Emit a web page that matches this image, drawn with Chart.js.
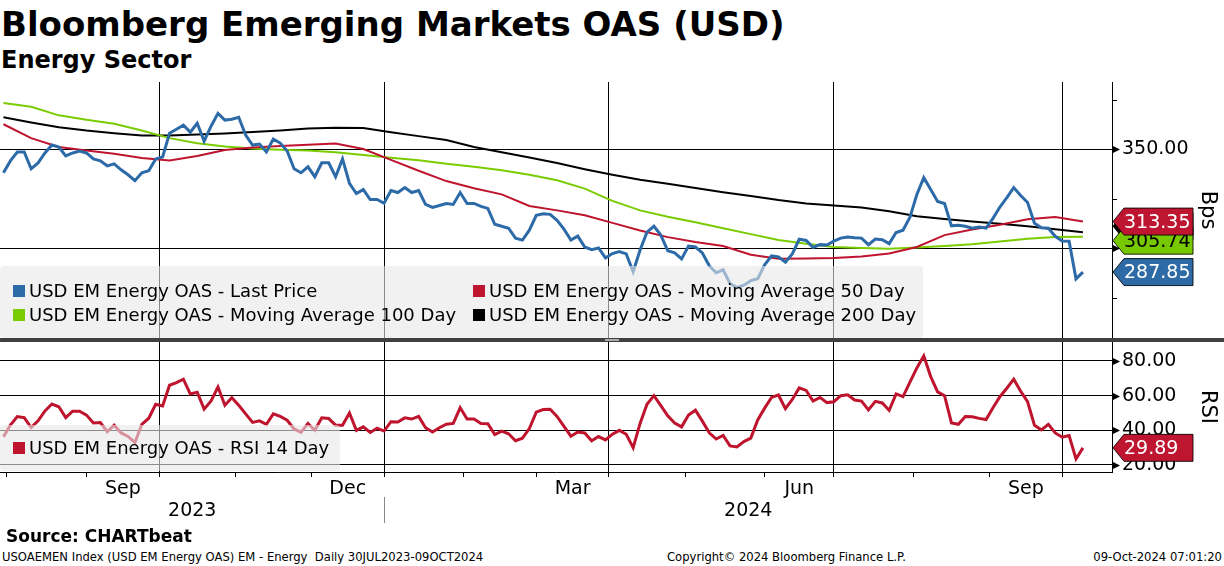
<!DOCTYPE html>
<html>
<head>
<meta charset="utf-8">
<script src="https://cdn.jsdelivr.net/npm/chart.js@4.4.1/dist/chart.umd.min.js"></script>
<style>
html, body { margin: 0; padding: 0; background: #fff; }
body { width: 1224px; height: 566px; position: relative; overflow: hidden;
       font-family: "DejaVu Sans", sans-serif; color: #000; }
.txt { position: absolute; white-space: nowrap; line-height: 1; }
#title { left: 1px; top: 7px; font-size: 34px; font-weight: bold; }
#sub { left: 1px; top: 48px; font-size: 24px; font-weight: bold; }
#source { left: 6px; top: 528px; font-size: 17px; font-weight: bold; }
#foot1 { left: 2px; top: 552px; font-size: 11.6px; }
#foot2 { left: 667px; top: 552px; font-size: 11.6px; }
#foot3 { right: 2px; top: 552px; font-size: 11.6px; }
#topWrap { position: absolute; left: 0; top: 82px; width: 1224px; height: 256px; }
#botWrap { position: absolute; left: 0; top: 342px; width: 1224px; height: 185px; }
#sep { position: absolute; left: 0; top: 338px; width: 1224px; height: 4px; background: #404040; }
#grip { position: absolute; left: 605px; top: 339px; width: 14px; height: 2px;
        border-top: 1px solid #aaa; border-bottom: 1px solid #aaa; box-sizing: border-box; }
</style>
</head>
<body>
<div id="title" class="txt">Bloomberg Emerging Markets OAS (USD)</div>
<div id="sub" class="txt">Energy Sector</div>
<div id="topWrap"><canvas id="topChart"></canvas></div>
<div id="sep"></div><div id="grip"></div>
<div id="botWrap"><canvas id="botChart"></canvas></div>
<div id="source" class="txt">Source: CHARTbeat</div>
<div id="foot1" class="txt">USOAEMEN Index (USD EM Energy OAS) EM - Energy&nbsp; Daily 30JUL2023-09OCT2024</div>
<div id="foot2" class="txt">Copyright© 2024 Bloomberg Finance L.P.</div>
<div id="foot3" class="txt">09-Oct-2024 07:01:20</div>
<script>
// business-day series, 30JUL2023 - 09OCT2024
// last price and RSI sampled every 2 trading days, moving averages every 8
var PRICE_STEP = 2, MA_STEP = 8;

var lastPrice = [
    338, 344, 348.5, 348.5, 340, 343, 348, 352, 351, 346.5,
    348, 349, 348, 345, 344, 341.5, 342.5, 339.5, 337, 334,
    338, 339, 345, 346, 358, 360, 362, 358.5, 363, 354,
    361.5, 368, 364.6, 365, 366, 357, 352, 352.5, 348.5, 355,
    353, 349, 340, 338, 341, 336, 343, 343, 336, 345,
    332.7, 327.5, 329.5, 324.5, 324.5, 322.6, 329, 328, 330.5, 328,
    329, 322, 320.5, 321.5, 322.5, 322, 328, 322.5, 322.5, 321,
    320, 312, 311, 310, 305, 304, 309, 316.5, 317.3, 317,
    314, 309.5, 304, 306, 300.5, 299.2, 300, 295, 297.2, 298.2,
    297, 288, 299, 308, 311, 306.5, 298.6, 297.6, 294.5, 301,
    300.5, 297.5, 291, 287.5, 289, 282, 280, 281.2, 283.5, 284.5,
    291.5, 296, 295.5, 292.8, 297, 304.4, 303.8, 300.3, 301.7, 301.5,
    303.5, 305, 305.5, 305.2, 305, 301.7, 304.5, 304.2, 302.2, 307.8,
    309, 315.6, 327, 335.5, 329.5, 323.5, 322.5, 311.2, 311.5, 311,
    310, 310.6, 310, 315, 320.7, 325.5, 330.5, 326.5, 323, 312.5,
    310.2, 310, 305.9, 303.5, 303.4, 284.4, 287.85
];

var ma50 = [
    362.5, 355.5, 351, 349.2, 347.6, 345.5, 344.2, 346.5, 349.5, 350.8,
    351.5, 352.2, 352.8, 350, 344.5, 339, 333.8, 330.2, 327.1, 321.2,
    319, 316.5, 312.7, 308.8, 305.5, 303, 301, 296.6, 294.6, 294.7,
    295, 295.7, 297.2, 300.5, 306.5, 309.3, 311.8, 314.5, 315.6, 313.35
];

var ma100 = [
    373.2, 371.3, 367, 364.8, 362.8, 359.3, 355.5, 352.9, 351.3, 350.3,
    349.6, 349.2, 348.3, 347, 345.6, 344.3, 342.6, 341, 339.3, 337,
    334.2, 330, 323.8, 319, 315.8, 313, 310, 307, 304, 302.2,
    300.5, 300, 299.6, 300.2, 301, 301.9, 303.3, 304.7, 305.5, 305.74
];

var ma200 = [
    366, 363.4, 361, 359.3, 358, 356.8, 356.8, 357.3, 357.8, 358.6,
    359.3, 360.3, 360.7, 360.6, 358.5, 356.5, 354.5, 351, 348.4, 345.7,
    342.9, 339.8, 337, 334.5, 332.4, 330.3, 328.2, 326.3, 324.2, 322.5,
    321.5, 320.4, 318.6, 316, 314.6, 313.4, 312.2, 311, 309.5, 308
];

var rsi14 = [
    36.3, 43, 47.9, 47.3, 41.6, 45.5, 51.2, 55.2, 53.6, 47.3,
    51, 51, 48.8, 44.3, 44.5, 39.2, 43, 38.5, 36.5, 33,
    43.5, 47, 55, 54, 66, 67.5, 69.5, 61, 62, 52.2,
    57, 65, 54.5, 58.8, 54.5, 49.5, 44.6, 45.5, 43.5, 49.5,
    48, 45.8, 40.8, 38.8, 44, 40, 47.2, 46.8, 43, 43,
    50, 40, 42, 38.8, 41.2, 39.6, 45, 44.8, 47.2, 46.5,
    48, 41.5, 39, 41.5, 43.5, 44, 53, 46.5, 46.5, 44,
    43.8, 37.5, 39.5, 38, 34, 35.5, 41, 50.5, 52, 52.2,
    48, 42.3, 36.6, 39, 38.5, 34, 36.4, 34.5, 37.8, 40,
    37.7, 30, 44, 55, 60, 54.2, 48.4, 44.2, 42, 48.8,
    51.6, 45.3, 38.6, 35, 37, 31, 30.4, 33.5, 35.5, 46,
    52.8, 59, 60.4, 52.5, 57.8, 64.5, 63, 56.9, 59, 56,
    56.5, 60, 60.5, 57.5, 56.9, 51.8, 56.7, 55.8, 51.5, 61,
    59.5, 67.8, 76, 83, 71, 62.2, 60, 44.3, 43.5, 48,
    47.8, 46.9, 46.2, 53, 59.4, 64.3, 69.5, 62.5, 56.5, 42.9,
    40.2, 43.5, 38.5, 36, 37, 23.5, 29.89
];

var quarterMonths = ["Sep", "Dec", "Mar", "Jun", "Sep"];
var yearLabels = ["2023", "2024"];
var bpsTicks = [275, 300, 325, 350, 375];
var rsiTicks = [20, 30, 40, 50, 60, 70, 80];

var BLUE = "#2c6aa8", RED = "#be142d", GREEN = "#7acc00", BLACK = "#000000";
var AXIS_FONT = { family: "DejaVu Sans", size: 19 };

// trading calendar for the x axis
var days = [];
for (var d = new Date(2023, 6, 31); d <= new Date(2024, 9, 9); d.setDate(d.getDate() + 1)) {
    if (d.getDay() !== 0 && d.getDay() !== 6) days.push(new Date(d));
}
var monthStarts = [], quarterStarts = [], monthLabelAt = {}, yearStart = 0;
var monthNames = ["Jan", "Feb", "Mar", "Apr", "May", "Jun", "Jul", "Aug", "Sep", "Oct", "Nov", "Dec"];
for (var i = 1; i < days.length; i++) {
    if (days[i].getMonth() !== days[i - 1].getMonth()) {
        monthStarts.push(i);
        if (days[i].getMonth() % 3 === 0) quarterStarts.push(i);
        if (days[i].getMonth() === 0) yearStart = i;
    }
}
var q = 0;
for (var j = 0; j < monthStarts.length; j++) {
    var m = days[monthStarts[j]].getMonth();
    if (q < quarterMonths.length && monthNames[m] === quarterMonths[q]) {
        var end = j + 1 < monthStarts.length ? monthStarts[j + 1] : monthStarts[j] + 21;
        monthLabelAt[(monthStarts[j] + end) / 2] = quarterMonths[q];
        q++;
    }
}
var xTickValues = monthStarts.concat(Object.keys(monthLabelAt).map(Number));

function toPoints(arr, step) {
    return arr.map(function (v, k) { return { x: k * step, y: v }; });
}

function lineSet(label, data, color, width) {
    return { label: label, data: data, borderColor: color, backgroundColor: color,
             borderWidth: width, pointRadius: 0, tension: 0, fill: false };
}

function xAxis(withLabels) {
    return {
        type: "linear", min: -1, max: 320.4, bounds: "data",
        afterBuildTicks: function (s) { s.ticks = xTickValues.map(function (v) { return { value: v }; }); },
        grid: {
            color: function (c) { return quarterStarts.indexOf(c.tick.value) >= 0 ? "#000" : "rgba(0,0,0,0)"; },
            tickColor: function (c) { return monthStarts.indexOf(c.tick.value) >= 0 ? "#000" : "rgba(0,0,0,0)"; },
            drawTicks: withLabels, tickLength: 5, lineWidth: 1
        },
        border: { display: withLabels, color: "#000" },
        ticks: {
            display: withLabels, autoSkip: false, maxRotation: 0, padding: 1,
            font: AXIS_FONT, color: "#000",
            callback: function (v) { return monthLabelAt[v] || ""; }
        },
        afterFit: function (s) {
            s.height = withLabels ? 55 : 0;
            s.paddingLeft = 0; s.paddingRight = 0;
        }
    };
}

function yAxis(min, max, ticks, major, title) {
    return {
        position: "right", min: min, max: max,
        afterBuildTicks: function (s) { s.ticks = ticks.map(function (v) { return { value: v }; }); },
        grid: {
            color: function (c) { return c.tick.value % major === 0 ? "#000" : "rgba(0,0,0,0)"; },
            drawTicks: false, lineWidth: 1
        },
        border: { color: "#000" },
        ticks: {
            font: AXIS_FONT, color: "#000", padding: 10,
            callback: function (v) { return v % major === 0 ? v.toFixed(2) : ""; }
        },
        title: { display: true, text: title, color: "#000",
                 font: { family: "DejaVu Sans", size: 21 }, padding: { top: 4, bottom: 0 } },
        afterFit: function (s) {
            s.width = 112;
            s.paddingTop = 0; s.paddingBottom = 0;
        }
    };
}

// tick marks on the right axis: triangles on labelled ticks, short dashes otherwise
var axisMarks = {
    id: "axisMarks",
    afterDraw: function (chart, args, opts) {
        var s = chart.scales.y, ctx = chart.ctx, x0 = s.left;
        ctx.save();
        ctx.fillStyle = "#000"; ctx.strokeStyle = "#000"; ctx.lineWidth = 1;
        s.ticks.forEach(function (t) {
            var y = Math.round(s.getPixelForValue(t.value)) + 0.5;
            if (t.value % opts.major === 0) {
                ctx.beginPath();
                ctx.moveTo(x0, y - 4); ctx.lineTo(x0 + 8, y); ctx.lineTo(x0, y + 4);
                ctx.closePath(); ctx.fill();
            } else {
                ctx.beginPath(); ctx.moveTo(x0, y); ctx.lineTo(x0 + 5, y); ctx.stroke();
            }
        });
        ctx.restore();
    }
};

// last-value tags at the right axis
var valueTags = {
    id: "valueTags",
    afterDraw: function (chart, args, opts) {
        var s = chart.scales.y, ctx = chart.ctx, x0 = s.left + 1, w = 80, h = 27;
        ctx.save();
        ctx.font = "19px 'DejaVu Sans'";
        ctx.textBaseline = "middle"; ctx.textAlign = "left";
        opts.items.forEach(function (it) {
            var cy = s.getPixelForValue(it.value) + (it.shift || 0);
            ctx.beginPath();
            ctx.moveTo(x0, cy); ctx.lineTo(x0 + 11, cy - h / 2); ctx.lineTo(x0 + w, cy - h / 2);
            ctx.lineTo(x0 + w, cy + h / 2); ctx.lineTo(x0 + 11, cy + h / 2); ctx.closePath();
            ctx.fillStyle = it.fill; ctx.fill();
            ctx.strokeStyle = "rgba(0,0,0,0.85)"; ctx.stroke();
            ctx.fillStyle = it.text;
            ctx.fillText(it.value.toFixed(2), x0 + 11, cy + 1);
        });
        ctx.restore();
    }
};

// translucent legend panel over the plot, Bloomberg style
var panelLegend = {
    id: "panelLegend",
    afterDatasetsDraw: function (chart, args, opts) {
        var ctx = chart.ctx, b = opts.box;
        ctx.save();
        ctx.fillStyle = "rgba(232,232,232,0.6)";
        ctx.beginPath();
        if (ctx.roundRect) ctx.roundRect(b[0], b[1], b[2], b[3], 4); else ctx.rect(b[0], b[1], b[2], b[3]);
        ctx.fill();
        ctx.font = "18px 'DejaVu Sans'";
        ctx.textBaseline = "middle"; ctx.textAlign = "left";
        opts.items.forEach(function (it) {
            var ds = chart.data.datasets[it.ds];
            ctx.fillStyle = ds.borderColor;
            ctx.fillRect(it.x, it.y - 6, 12, 12);
            ctx.fillStyle = "#000";
            ctx.fillText(ds.label, it.x + 16, it.y + 1);
        });
        ctx.restore();
    }
};

// year captions under the month labels
var yearRow = {
    id: "yearRow",
    afterDraw: function (chart) {
        var ctx = chart.ctx, x = chart.scales.x, area = chart.chartArea;
        var xs = Math.round(x.getPixelForValue(yearStart)) + 0.5;
        ctx.save();
        ctx.strokeStyle = "#888"; ctx.lineWidth = 1;
        ctx.beginPath(); ctx.moveTo(xs, 155); ctx.lineTo(xs, 181); ctx.stroke();
        ctx.fillStyle = "#000"; ctx.font = "19px 'DejaVu Sans'";
        ctx.textAlign = "center"; ctx.textBaseline = "middle";
        ctx.fillText(yearLabels[0], (area.left + xs) / 2, 169);
        ctx.fillText(yearLabels[1], (xs + area.right) / 2, 169);
        ctx.restore();
    }
};

Chart.defaults.font.family = "DejaVu Sans";
Chart.defaults.animation = false;

new Chart(document.getElementById("topChart"), {
    type: "line",
    data: {
        datasets: [
            lineSet("USD EM Energy OAS - Last Price", toPoints(lastPrice, PRICE_STEP), BLUE, 3),
            lineSet("USD EM Energy OAS - Moving Average 50 Day", toPoints(ma50, MA_STEP), RED, 2),
            lineSet("USD EM Energy OAS - Moving Average 100 Day", toPoints(ma100, MA_STEP), GREEN, 2),
            lineSet("USD EM Energy OAS - Moving Average 200 Day", toPoints(ma200, MA_STEP), BLACK, 2)
        ]
    },
    options: {
        responsive: true, maintainAspectRatio: false,
        layout: { padding: 0 },
        scales: { x: xAxis(false), y: yAxis(254.55, 383.84, bpsTicks, 50, "Bps") },
        plugins: {
            legend: { display: false }, tooltip: { enabled: false },
            axisMarks: { major: 50 },
            valueTags: { items: [
                { value: ma200[ma200.length - 1], fill: "#000", text: "#fff", shift: -6 },
                { value: ma100[ma100.length - 1], fill: "#78c800", text: "#000", shift: 4 },
                { value: ma50[ma50.length - 1], fill: "#be1530", text: "#fff", shift: 0 },
                { value: lastPrice[lastPrice.length - 1], fill: "#2d6aa6", text: "#fff", shift: 0 }
            ] },
            panelLegend: {
                box: [0, 184, 923, 72],
                items: [
                    { ds: 0, x: 13, y: 209 }, { ds: 1, x: 473, y: 209 },
                    { ds: 2, x: 13, y: 233 }, { ds: 3, x: 473, y: 233 }
                ]
            }
        }
    },
    plugins: [panelLegend, axisMarks, valueTags]
});

new Chart(document.getElementById("botChart"), {
    type: "line",
    data: {
        datasets: [
            lineSet("USD EM Energy OAS - RSI 14 Day", toPoints(rsi14, PRICE_STEP), RED, 3)
        ]
    },
    options: {
        responsive: true, maintainAspectRatio: false,
        layout: { padding: 0 },
        scales: { x: xAxis(true), y: yAxis(15.96, 90.96, rsiTicks, 20, "RSI") },
        plugins: {
            legend: { display: false }, tooltip: { enabled: false },
            axisMarks: { major: 20 },
            valueTags: { items: [
                { value: rsi14[rsi14.length - 1], fill: "#be1530", text: "#fff", shift: 0 }
            ] },
            panelLegend: {
                box: [0, 83, 340, 46],
                items: [{ ds: 0, x: 13, y: 106 }]
            }
        }
    },
    plugins: [panelLegend, axisMarks, valueTags, yearRow]
});
</script>
</body>
</html>
